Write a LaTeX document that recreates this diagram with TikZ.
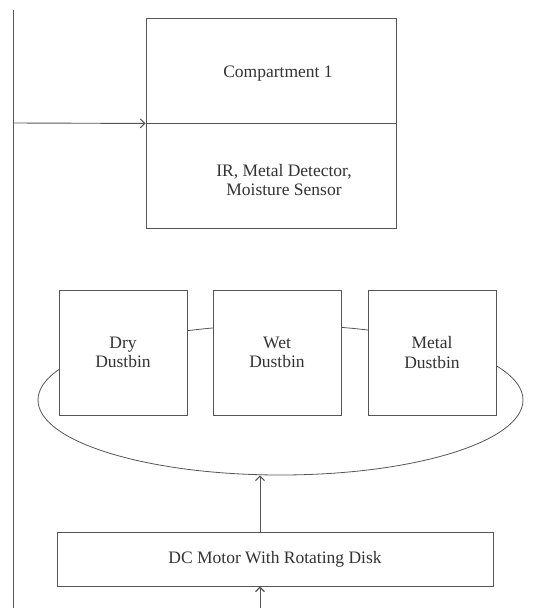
\documentclass[tikz,border=0pt]{standalone}
\usepackage{fontspec}
\setmainfont{Liberation Serif}
\usetikzlibrary{shapes.geometric,arrows.meta}
\definecolor{lc}{HTML}{555555}
\definecolor{tc}{HTML}{333333}
\begin{document}
\begin{tikzpicture}[x=1pt,y=-1pt,
  every node/.style={font=\fontsize{17.5}{19.5}\selectfont,text=tc,align=center},
  box/.style={draw=lc,line width=0.9pt,fill=white,rectangle,inner sep=0pt,align=center},
  conn/.style={draw=lc,line width=0.9pt},
  arr/.style={conn,-{Straight Barb[length=4.5pt,width=9pt,line width=1.1pt]}}]
\useasboundingbox (0,0) rectangle (544,608);
% ellipse behind dustbins
\node[draw=lc,line width=0.8pt,ellipse,minimum width=485,minimum height=150,inner sep=0pt] (ell) at (280.5,400) {};
% compartment
\node[box,minimum width=250,minimum height=105] (c1) at (271,70.5) {};
\node[box,minimum width=250,minimum height=105] (c2) at (271,175.5) {};
\node (t1) at (278,74) {Compartment 1};
\node (t2) at (284,180) {IR, Metal Detector,\\Moisture Sensor};
% dustbins
\node[box,minimum width=128,minimum height=125] (dry) at (123,352.5) {Dry\\Dustbin};
\node[box,minimum width=128,minimum height=125] (wet) at (277,352.5) {Wet\\Dustbin};
\node[box,minimum width=128,minimum height=125] (met) at (432,352.5) {Metal\\Dustbin};
% motor
\node[box,minimum width=436,minimum height=54] (mot) at (275,559) {DC Motor With Rotating Disk};
% left line
\coordinate (ltop) at (13,10);
\coordinate (lbot) at (13,608);
\coordinate (lmid) at (13,123);
\draw[conn] (ltop) -- (lbot);
\draw[arr] (lmid) -- (c1.south west);
% motor arrows
\coordinate (mx) at (260,0);
\coordinate (bot) at (260,608);
\draw[arr] (mot.north -| mx) -- (ell.south -| mx);
\draw[arr] (bot) -- (bot |- mot.south);
\end{tikzpicture}
\end{document}
